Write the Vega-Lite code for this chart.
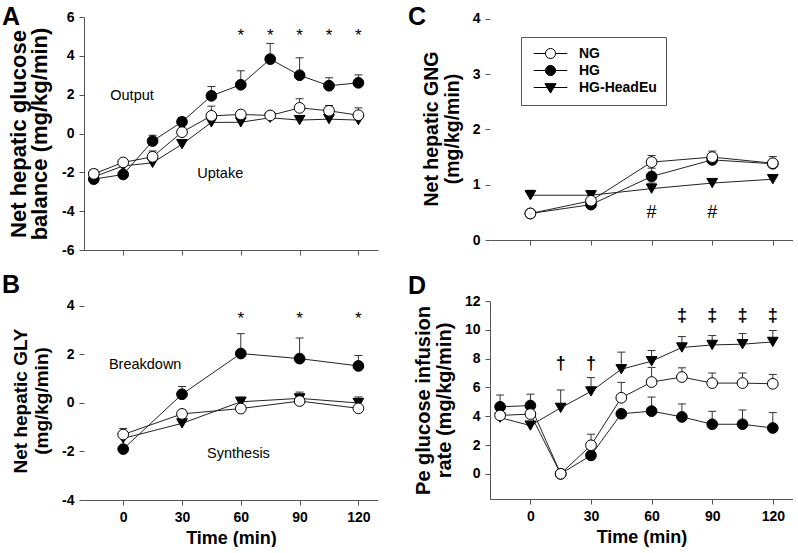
{
  "$schema": "https://vega.github.io/schema/vega-lite/v6.json",
  "background": "white",
  "padding": {"left": 2, "top": 4, "right": 0, "bottom": 0},
  "autosize": {"type": "pad"},
  "config": {
    "view": {"stroke": null},
    "font": "Liberation Sans",
    "axis": {"domainColor": "#555", "tickColor": "#555", "labelFont": "Liberation Sans", "labelFontWeight": "bold", "labelFontSize": 14, "labelColor": "#000", "titleFont": "Liberation Sans", "titleFontWeight": "bold", "titleFontSize": 20, "titleColor": "#000", "grid": false, "tickSize": 5, "domainWidth": 1, "tickWidth": 1, "labelPadding": 5, "titleLineHeight": 21},
    "axisY": {"titlePadding": 10},
    "axisX": {"titlePadding": 5, "titleFontSize": 18},
    "title": {"font": "Liberation Sans", "fontSize": 25, "fontWeight": "bold", "anchor": "start", "frame": "group", "baseline": "top", "offset": 0, "color": "#000"},
    "text": {"font": "Liberation Sans", "color": "#000"}
  },
  "datasets": {
    "pts": [
      {"panel": "A", "series": "HG-HeadEu", "t": -15, "v": -2.23, "hi": null},
      {"panel": "A", "series": "HG-HeadEu", "t": 0, "v": -1.67, "hi": -1.45},
      {"panel": "A", "series": "HG-HeadEu", "t": 15, "v": -1.51, "hi": null},
      {"panel": "A", "series": "HG-HeadEu", "t": 30, "v": -0.55, "hi": null},
      {"panel": "A", "series": "HG-HeadEu", "t": 45, "v": 0.57, "hi": null},
      {"panel": "A", "series": "HG-HeadEu", "t": 60, "v": 0.58, "hi": null},
      {"panel": "A", "series": "HG-HeadEu", "t": 75, "v": 0.81, "hi": 1.0},
      {"panel": "A", "series": "HG-HeadEu", "t": 90, "v": 0.69, "hi": null},
      {"panel": "A", "series": "HG-HeadEu", "t": 105, "v": 0.74, "hi": null},
      {"panel": "A", "series": "HG-HeadEu", "t": 120, "v": 0.69, "hi": null},
      {"panel": "A", "series": "HG", "t": -15, "v": -2.35, "hi": -2.2},
      {"panel": "A", "series": "HG", "t": 0, "v": -2.11, "hi": -1.95},
      {"panel": "A", "series": "HG", "t": 15, "v": -0.39, "hi": -0.09},
      {"panel": "A", "series": "HG", "t": 30, "v": 0.6, "hi": 0.82},
      {"panel": "A", "series": "HG", "t": 45, "v": 1.94, "hi": 2.42},
      {"panel": "A", "series": "HG", "t": 60, "v": 2.51, "hi": 3.23},
      {"panel": "A", "series": "HG", "t": 75, "v": 3.83, "hi": 4.64},
      {"panel": "A", "series": "HG", "t": 90, "v": 3.0, "hi": 3.9},
      {"panel": "A", "series": "HG", "t": 105, "v": 2.46, "hi": 2.87},
      {"panel": "A", "series": "HG", "t": 120, "v": 2.61, "hi": 3.02},
      {"panel": "A", "series": "NG", "t": -15, "v": -2.08, "hi": -1.85},
      {"panel": "A", "series": "NG", "t": 0, "v": -1.49, "hi": -1.34},
      {"panel": "A", "series": "NG", "t": 15, "v": -1.2, "hi": -0.9},
      {"panel": "A", "series": "NG", "t": 30, "v": 0.07, "hi": 0.25},
      {"panel": "A", "series": "NG", "t": 45, "v": 0.91, "hi": 1.41},
      {"panel": "A", "series": "NG", "t": 60, "v": 0.98, "hi": 1.12},
      {"panel": "A", "series": "NG", "t": 75, "v": 0.93, "hi": 1.1},
      {"panel": "A", "series": "NG", "t": 90, "v": 1.32, "hi": 1.79},
      {"panel": "A", "series": "NG", "t": 105, "v": 1.17, "hi": 1.44},
      {"panel": "A", "series": "NG", "t": 120, "v": 0.94, "hi": 1.32},
      {"panel": "B", "series": "HG-HeadEu", "t": 0, "v": -1.46, "hi": null},
      {"panel": "B", "series": "HG-HeadEu", "t": 30, "v": -0.84, "hi": null},
      {"panel": "B", "series": "HG-HeadEu", "t": 60, "v": 0.05, "hi": 0.24},
      {"panel": "B", "series": "HG-HeadEu", "t": 90, "v": 0.19, "hi": 0.45},
      {"panel": "B", "series": "HG-HeadEu", "t": 120, "v": 0.0, "hi": 0.25},
      {"panel": "B", "series": "HG", "t": 0, "v": -1.9, "hi": null},
      {"panel": "B", "series": "HG", "t": 30, "v": 0.36, "hi": 0.68},
      {"panel": "B", "series": "HG", "t": 60, "v": 2.04, "hi": 2.86},
      {"panel": "B", "series": "HG", "t": 90, "v": 1.83, "hi": 2.68},
      {"panel": "B", "series": "HG", "t": 120, "v": 1.53, "hi": 1.96},
      {"panel": "B", "series": "NG", "t": 0, "v": -1.3, "hi": -1.05},
      {"panel": "B", "series": "NG", "t": 30, "v": -0.45, "hi": -0.3},
      {"panel": "B", "series": "NG", "t": 60, "v": -0.23, "hi": null},
      {"panel": "B", "series": "NG", "t": 90, "v": 0.08, "hi": 0.2},
      {"panel": "B", "series": "NG", "t": 120, "v": -0.22, "hi": 0.1},
      {"panel": "C", "series": "HG-HeadEu", "t": 0, "v": 0.81, "hi": 0.9},
      {"panel": "C", "series": "HG-HeadEu", "t": 30, "v": 0.81, "hi": null},
      {"panel": "C", "series": "HG-HeadEu", "t": 60, "v": 0.93, "hi": 1.03},
      {"panel": "C", "series": "HG-HeadEu", "t": 90, "v": 1.03, "hi": 1.09},
      {"panel": "C", "series": "HG-HeadEu", "t": 120, "v": 1.1, "hi": null},
      {"panel": "C", "series": "HG", "t": 0, "v": 0.48, "hi": null},
      {"panel": "C", "series": "HG", "t": 30, "v": 0.64, "hi": null},
      {"panel": "C", "series": "HG", "t": 60, "v": 1.15, "hi": 1.3},
      {"panel": "C", "series": "HG", "t": 90, "v": 1.45, "hi": null},
      {"panel": "C", "series": "HG", "t": 120, "v": 1.38, "hi": null},
      {"panel": "C", "series": "NG", "t": 0, "v": 0.48, "hi": null},
      {"panel": "C", "series": "NG", "t": 30, "v": 0.71, "hi": null},
      {"panel": "C", "series": "NG", "t": 60, "v": 1.41, "hi": 1.53},
      {"panel": "C", "series": "NG", "t": 90, "v": 1.5, "hi": 1.61},
      {"panel": "C", "series": "NG", "t": 120, "v": 1.39, "hi": 1.51},
      {"panel": "D", "series": "HG-HeadEu", "t": -15, "v": 3.9, "hi": null},
      {"panel": "D", "series": "HG-HeadEu", "t": 0, "v": 3.35, "hi": null},
      {"panel": "D", "series": "HG-HeadEu", "t": 15, "v": 4.58, "hi": 5.82},
      {"panel": "D", "series": "HG-HeadEu", "t": 30, "v": 5.72, "hi": 6.68},
      {"panel": "D", "series": "HG-HeadEu", "t": 45, "v": 7.26, "hi": 8.45},
      {"panel": "D", "series": "HG-HeadEu", "t": 60, "v": 7.82, "hi": 8.56},
      {"panel": "D", "series": "HG-HeadEu", "t": 75, "v": 8.77, "hi": 9.53},
      {"panel": "D", "series": "HG-HeadEu", "t": 90, "v": 8.95, "hi": 9.6},
      {"panel": "D", "series": "HG-HeadEu", "t": 105, "v": 9.0, "hi": 9.74},
      {"panel": "D", "series": "HG-HeadEu", "t": 120, "v": 9.16, "hi": 9.95},
      {"panel": "D", "series": "HG", "t": -15, "v": 4.65, "hi": 5.47},
      {"panel": "D", "series": "HG", "t": 0, "v": 4.74, "hi": 5.53},
      {"panel": "D", "series": "HG", "t": 15, "v": 0.0, "hi": null},
      {"panel": "D", "series": "HG", "t": 30, "v": 1.28, "hi": null},
      {"panel": "D", "series": "HG", "t": 45, "v": 4.17, "hi": null},
      {"panel": "D", "series": "HG", "t": 60, "v": 4.35, "hi": 5.33},
      {"panel": "D", "series": "HG", "t": 75, "v": 3.95, "hi": 4.85},
      {"panel": "D", "series": "HG", "t": 90, "v": 3.44, "hi": 4.34},
      {"panel": "D", "series": "HG", "t": 105, "v": 3.44, "hi": 4.43},
      {"panel": "D", "series": "HG", "t": 120, "v": 3.18, "hi": 4.25},
      {"panel": "D", "series": "NG", "t": -15, "v": 4.05, "hi": null},
      {"panel": "D", "series": "NG", "t": 0, "v": 4.15, "hi": null},
      {"panel": "D", "series": "NG", "t": 15, "v": 0.0, "hi": null},
      {"panel": "D", "series": "NG", "t": 30, "v": 1.98, "hi": 2.75},
      {"panel": "D", "series": "NG", "t": 45, "v": 5.28, "hi": 6.35},
      {"panel": "D", "series": "NG", "t": 60, "v": 6.37, "hi": 7.39},
      {"panel": "D", "series": "NG", "t": 75, "v": 6.72, "hi": 7.36},
      {"panel": "D", "series": "NG", "t": 90, "v": 6.3, "hi": 7.0},
      {"panel": "D", "series": "NG", "t": 105, "v": 6.3, "hi": 7.0},
      {"panel": "D", "series": "NG", "t": 120, "v": 6.25, "hi": 6.9}
    ],
    "ann": [
      {"panel": "A", "kind": "note", "t": 4.5, "v": 1.94, "label": "Output"},
      {"panel": "A", "kind": "note", "t": 49.5, "v": -2.08, "label": "Uptake"},
      {"panel": "B", "kind": "note", "t": 11.2, "v": 1.58, "label": "Breakdown"},
      {"panel": "B", "kind": "note", "t": 58.8, "v": -2.12, "label": "Synthesis"},
      {"panel": "A", "kind": "star", "t": 60, "v": 5.0, "label": "*"},
      {"panel": "A", "kind": "star", "t": 75, "v": 5.0, "label": "*"},
      {"panel": "A", "kind": "star", "t": 90, "v": 5.0, "label": "*"},
      {"panel": "A", "kind": "star", "t": 105, "v": 5.0, "label": "*"},
      {"panel": "A", "kind": "star", "t": 120, "v": 5.0, "label": "*"},
      {"panel": "B", "kind": "star", "t": 60, "v": 3.45, "label": "*"},
      {"panel": "B", "kind": "star", "t": 90, "v": 3.45, "label": "*"},
      {"panel": "B", "kind": "star", "t": 120, "v": 3.45, "label": "*"},
      {"panel": "C", "kind": "hash", "t": 60, "v": 0.48, "label": "#"},
      {"panel": "C", "kind": "hash", "t": 90, "v": 0.48, "label": "#"},
      {"panel": "D", "kind": "dag", "t": 15, "v": 7.6, "label": "†"},
      {"panel": "D", "kind": "dag", "t": 30, "v": 7.6, "label": "†"},
      {"panel": "D", "kind": "dag", "t": 75, "v": 10.95, "label": "‡"},
      {"panel": "D", "kind": "dag", "t": 90, "v": 10.95, "label": "‡"},
      {"panel": "D", "kind": "dag", "t": 105, "v": 10.95, "label": "‡"},
      {"panel": "D", "kind": "dag", "t": 120, "v": 10.95, "label": "‡"}
    ]
  },
  "spacing": 15,
  "vconcat": [
    {
      "bounds": "flush",
      "spacing": 112,
      "hconcat": [
        {
          "width": 294, "height": 233,
          "title": {"text": "A", "dx": -82, "dy": 24},
          "encoding": {
            "x": {"field": "t", "type": "quantitative", "scale": {"domain": [-20, 130], "nice": false, "zero": false}, "axis": {"values": [0, 30, 60, 90, 120], "labels": false, "title": null}},
            "y": {"field": "v", "type": "quantitative", "scale": {"domain": [-6, 6], "nice": false, "zero": false}, "axis": {"values": [-6, -4, -2, 0, 2, 4, 6], "labelExpr": "'' + datum.value", "title": ["Net hepatic glucose", "balance (mg/kg/min)"], "titleFontSize": 22}}
          },
          "layer": [
            {"data": {"values": [{}]}, "mark": {"type": "rule", "strokeDash": [4, 3], "color": "#333", "strokeWidth": 1}, "encoding": {"x": {"datum": -20}, "x2": {"datum": 123}, "y": {"datum": 0}}},
            {"data": {"name": "pts"}, "transform": [{"filter": "datum.panel == 'A' && datum.hi != null"}], "mark": {"type": "rule", "color": "#333", "strokeWidth": 1}, "encoding": {"y2": {"field": "hi"}}},
            {"data": {"name": "pts"}, "transform": [{"filter": "datum.panel == 'A' && datum.hi != null"}], "mark": {"type": "tick", "orient": "horizontal", "color": "#333", "size": 8, "thickness": 1, "opacity": 1}, "encoding": {"y": {"field": "hi", "type": "quantitative"}}},
            {"data": {"name": "pts"}, "transform": [{"filter": "datum.panel == 'A'"}], "mark": {"type": "line", "color": "#222", "strokeWidth": 1}, "encoding": {"detail": {"field": "series"}}},
            {"data": {"name": "pts"}, "transform": [{"filter": "datum.panel == 'A'"}], "mark": {"type": "point", "filled": true, "stroke": "#000", "strokeWidth": 1, "size": 115, "opacity": 1},
             "encoding": {"shape": {"field": "series", "scale": {"domain": ["NG", "HG", "HG-HeadEu"], "range": ["circle", "circle", "triangle-down"]}, "legend": null},
                          "fill": {"field": "series", "scale": {"domain": ["NG", "HG", "HG-HeadEu"], "range": ["#ffffff", "#000000", "#000000"]}, "legend": null}}},
            {"data": {"name": "ann"}, "transform": [{"filter": "datum.panel == 'A' && datum.kind == 'note'"}], "mark": {"type": "text", "fontSize": 14.5, "baseline": "middle", "align": "center"}, "encoding": {"text": {"field": "label"}}},
            {"data": {"name": "ann"}, "transform": [{"filter": "datum.panel == 'A' && datum.kind == 'star'"}], "mark": {"type": "text", "fontSize": 17, "baseline": "middle", "align": "center"}, "encoding": {"text": {"field": "label"}}}
          ]
        },
        {
          "width": 303, "height": 223,
          "title": {"text": "C", "dx": -82, "dy": 22},
          "resolve": {"scale": {"shape": "independent", "fill": "independent", "stroke": "independent"}},
          "encoding": {
            "x": {"field": "t", "type": "quantitative", "scale": {"domain": [-20, 130], "nice": false, "zero": false}, "axis": {"values": [0, 30, 60, 90, 120], "labels": false, "title": null}},
            "y": {"field": "v", "type": "quantitative", "scale": {"domain": [0, 4.036], "nice": false, "zero": false}, "axis": {"values": [0, 1, 2, 3, 4], "labelExpr": "'' + datum.value", "domain": false, "title": ["Net hepatic GNG", "(mg/kg/min)"], "titleFontSize": 19.5}}
          },
          "layer": [
            {"data": {"values": [{}]}, "mark": {"type": "rule", "color": "#555", "strokeWidth": 1}, "encoding": {"x": {"datum": -20}, "y": {"datum": 0}, "y2": {"datum": 4}}},
            {"data": {"name": "pts"}, "transform": [{"filter": "datum.panel == 'C' && datum.hi != null"}], "mark": {"type": "rule", "color": "#333", "strokeWidth": 1}, "encoding": {"y2": {"field": "hi"}}},
            {"data": {"name": "pts"}, "transform": [{"filter": "datum.panel == 'C' && datum.hi != null"}], "mark": {"type": "tick", "orient": "horizontal", "color": "#333", "size": 8, "thickness": 1, "opacity": 1}, "encoding": {"y": {"field": "hi", "type": "quantitative"}}},
            {"data": {"name": "pts"}, "transform": [{"filter": "datum.panel == 'C'"}], "mark": {"type": "line", "color": "#222", "strokeWidth": 1}, "encoding": {"detail": {"field": "series"}}},
            {"data": {"name": "pts"}, "transform": [{"filter": "datum.panel == 'C'"}], "mark": {"type": "point", "filled": true, "stroke": "#000", "strokeWidth": 1, "size": 115, "opacity": 1},
             "encoding": {"shape": {"field": "series", "scale": {"domain": ["NG", "HG", "HG-HeadEu"], "range": ["circle", "circle", "triangle-down"]}, "legend": null},
                          "fill": {"field": "series", "scale": {"domain": ["NG", "HG", "HG-HeadEu"], "range": ["#ffffff", "#000000", "#000000"]}, "legend": null}}},
            {"data": {"name": "pts"}, "transform": [{"filter": "datum.panel == 'none'"}], "mark": {"type": "point", "filled": true, "strokeWidth": 1, "size": 196, "opacity": 1},
             "encoding": {"shape": {"field": "series", "scale": {"domain": ["NG", "HG", "HG-HeadEu"], "range": ["M-2.4,0L-0.72,0M0.72,0L2.4,0M0.72,0A0.72,0.72,0,1,1,-0.72,0A0.72,0.72,0,1,1,0.72,0Z", "M-2.4,0L-0.72,0M0.72,0L2.4,0M0.72,0A0.72,0.72,0,1,1,-0.72,0A0.72,0.72,0,1,1,0.72,0Z", "M-2.4,0L2.4,0M-0.8,-0.55L0.8,-0.55L0,0.8Z"]},
                                    "legend": {"title": null, "orient": "none", "legendX": 31, "legendY": 20, "strokeColor": "#555", "padding": 9, "rowPadding": 2, "symbolSize": 196, "symbolOffset": 13, "labelOffset": 21, "symbolStrokeWidth": 1, "symbolOpacity": 1, "labelFont": "Liberation Sans", "labelFontSize": 14, "labelFontWeight": "bold", "labelColor": "#000"}},
                          "fill": {"field": "series", "scale": {"domain": ["NG", "HG", "HG-HeadEu"], "range": ["#ffffff", "#000000", "#000000"]}},
                          "stroke": {"field": "series", "scale": {"domain": ["NG", "HG", "HG-HeadEu"], "range": ["#000000", "#000000", "#000000"]}}}},
            {"data": {"name": "ann"}, "transform": [{"filter": "datum.panel == 'C' && datum.kind == 'hash'"}], "mark": {"type": "text", "fontSize": 18, "baseline": "middle", "align": "center"}, "encoding": {"text": {"field": "label"}}}
          ]
        }
      ]
    },
    {
      "bounds": "flush",
      "spacing": 112,
      "hconcat": [
        {
          "width": 294, "height": 199,
          "title": {"text": "B", "dx": -82, "dy": 3},
          "encoding": {
            "x": {"field": "t", "type": "quantitative", "scale": {"domain": [-20, 130], "nice": false, "zero": false}, "axis": {"values": [0, 30, 60, 90, 120], "title": "Time (min)"}},
            "y": {"field": "v", "type": "quantitative", "scale": {"domain": [-4, 4.206], "nice": false, "zero": false}, "axis": {"values": [-4, -2, 0, 2, 4], "labelExpr": "'' + datum.value", "domain": false, "title": ["Net hepatic GLY", "(mg/kg/min)"], "titleFontSize": 19}}
          },
          "layer": [
            {"data": {"values": [{}]}, "mark": {"type": "rule", "color": "#555", "strokeWidth": 1}, "encoding": {"x": {"datum": -20}, "y": {"datum": -4}, "y2": {"datum": 4}}},
            {"data": {"values": [{}]}, "mark": {"type": "rule", "strokeDash": [4, 3], "color": "#333", "strokeWidth": 1}, "encoding": {"x": {"datum": -20}, "x2": {"datum": 128}, "y": {"datum": 0}}},
            {"data": {"name": "pts"}, "transform": [{"filter": "datum.panel == 'B' && datum.hi != null"}], "mark": {"type": "rule", "color": "#333", "strokeWidth": 1}, "encoding": {"y2": {"field": "hi"}}},
            {"data": {"name": "pts"}, "transform": [{"filter": "datum.panel == 'B' && datum.hi != null"}], "mark": {"type": "tick", "orient": "horizontal", "color": "#333", "size": 8, "thickness": 1, "opacity": 1}, "encoding": {"y": {"field": "hi", "type": "quantitative"}}},
            {"data": {"name": "pts"}, "transform": [{"filter": "datum.panel == 'B'"}], "mark": {"type": "line", "color": "#222", "strokeWidth": 1}, "encoding": {"detail": {"field": "series"}}},
            {"data": {"name": "pts"}, "transform": [{"filter": "datum.panel == 'B'"}], "mark": {"type": "point", "filled": true, "stroke": "#000", "strokeWidth": 1, "size": 115, "opacity": 1},
             "encoding": {"shape": {"field": "series", "scale": {"domain": ["NG", "HG", "HG-HeadEu"], "range": ["circle", "circle", "triangle-down"]}, "legend": null},
                          "fill": {"field": "series", "scale": {"domain": ["NG", "HG", "HG-HeadEu"], "range": ["#ffffff", "#000000", "#000000"]}, "legend": null}}},
            {"data": {"name": "ann"}, "transform": [{"filter": "datum.panel == 'B' && datum.kind == 'note'"}], "mark": {"type": "text", "fontSize": 14.5, "baseline": "middle", "align": "center"}, "encoding": {"text": {"field": "label"}}},
            {"data": {"name": "ann"}, "transform": [{"filter": "datum.panel == 'B' && datum.kind == 'star'"}], "mark": {"type": "text", "fontSize": 17, "baseline": "middle", "align": "center"}, "encoding": {"text": {"field": "label"}}}
          ]
        },
        {
          "width": 303, "height": 198,
          "title": {"text": "D", "dx": -82, "dy": 9},
          "encoding": {
            "x": {"field": "t", "type": "quantitative", "scale": {"domain": [-20, 130], "nice": false, "zero": false}, "axis": {"values": [0, 30, 60, 90, 120], "title": "Time (min)"}},
            "y": {"field": "v", "type": "quantitative", "scale": {"domain": [-1.75, 12], "nice": false, "zero": false}, "axis": {"values": [0, 2, 4, 6, 8, 10, 12], "labelExpr": "'' + datum.value", "title": ["Pe glucose infusion", "rate (mg/kg/min)"]}}
          },
          "layer": [
            {"data": {"name": "pts"}, "transform": [{"filter": "datum.panel == 'D' && datum.hi != null"}], "mark": {"type": "rule", "color": "#333", "strokeWidth": 1}, "encoding": {"y2": {"field": "hi"}}},
            {"data": {"name": "pts"}, "transform": [{"filter": "datum.panel == 'D' && datum.hi != null"}], "mark": {"type": "tick", "orient": "horizontal", "color": "#333", "size": 8, "thickness": 1, "opacity": 1}, "encoding": {"y": {"field": "hi", "type": "quantitative"}}},
            {"data": {"name": "pts"}, "transform": [{"filter": "datum.panel == 'D'"}], "mark": {"type": "line", "color": "#222", "strokeWidth": 1}, "encoding": {"detail": {"field": "series"}}},
            {"data": {"name": "pts"}, "transform": [{"filter": "datum.panel == 'D'"}], "mark": {"type": "point", "filled": true, "stroke": "#000", "strokeWidth": 1, "size": 115, "opacity": 1},
             "encoding": {"shape": {"field": "series", "scale": {"domain": ["NG", "HG", "HG-HeadEu"], "range": ["circle", "circle", "triangle-down"]}, "legend": null},
                          "fill": {"field": "series", "scale": {"domain": ["NG", "HG", "HG-HeadEu"], "range": ["#ffffff", "#000000", "#000000"]}, "legend": null}}},
            {"data": {"name": "ann"}, "transform": [{"filter": "datum.panel == 'D' && datum.kind == 'dag'"}], "mark": {"type": "text", "fontSize": 18, "fontWeight": "bold", "baseline": "middle", "align": "center"}, "encoding": {"text": {"field": "label"}}}
          ]
        }
      ]
    }
  ]
}
